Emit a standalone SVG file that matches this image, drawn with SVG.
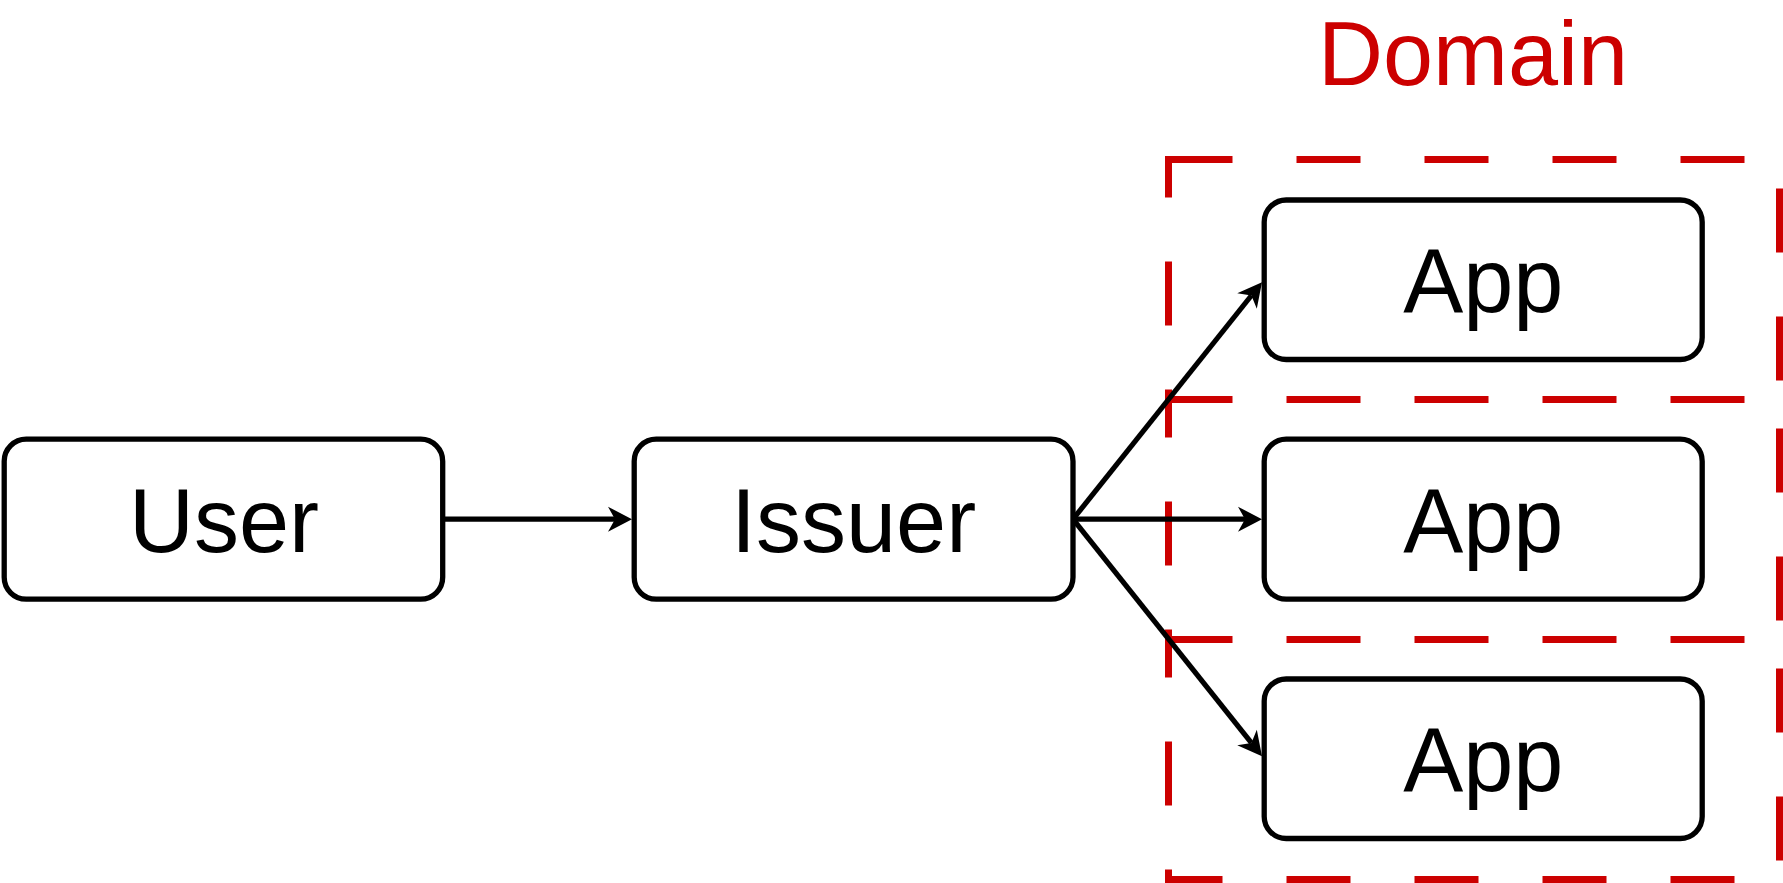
<svg xmlns="http://www.w3.org/2000/svg" width="1783" height="883" viewBox="0 0 1783 883">
  <style>
    .node rect { fill: #ffffff; stroke: #000000; stroke-width: 5.3; }
    .node text { font-family: "Liberation Sans", Arial, sans-serif; font-size: 90px; fill: #000000; text-anchor: middle; }
    .domain { fill: none; stroke: #CC0000; stroke-width: 7; stroke-dasharray: 64 64; }
    .title { font-family: "Liberation Sans", Arial, sans-serif; font-size: 90px; fill: #CC0000; text-anchor: middle; }
    .edge { fill: none; stroke: #000000; stroke-width: 5.2; marker-end: url(#arrow); }
  </style>
  <defs>
    <marker id="arrow" markerUnits="userSpaceOnUse" orient="auto" viewBox="-26 -14 28 28" markerWidth="28" markerHeight="28" refX="-17" refY="0" overflow="visible">
      <path d="M0,0 L-24,-12.5 L-17,0 L-24,12.5 Z" fill="#000000"/>
    </marker>
  </defs>
  <rect width="1783" height="883" fill="#ffffff"/>

  <g id="domain">
    <text class="title" x="1473" y="85">Domain</text>
    <rect class="domain" x="1168.5" y="159.5" width="611" height="240"/>
    <rect class="domain" x="1168.5" y="399.5" width="611" height="240"/>
    <rect class="domain" x="1168.5" y="639.5" width="611" height="240"/>
  </g>

  <g id="user" class="node">
    <rect x="4.2" y="439.2" width="438.5" height="160" rx="22" ry="22"/>
    <text x="224" y="551.5">User</text>
  </g>
  <g id="issuer" class="node">
    <rect x="634.2" y="439.2" width="438.8" height="160" rx="22" ry="22"/>
    <text x="853.6" y="551.5">Issuer</text>
  </g>
  <g id="app1" class="node">
    <rect x="1264.2" y="200" width="438" height="159.5" rx="22" ry="22"/>
    <text x="1483.2" y="311.5">App</text>
  </g>
  <g id="app2" class="node">
    <rect x="1264.2" y="439.2" width="438" height="160" rx="22" ry="22"/>
    <text x="1483.2" y="551.5">App</text>
  </g>
  <g id="app3" class="node">
    <rect x="1264.2" y="679" width="438" height="159.5" rx="22" ry="22"/>
    <text x="1483.2" y="790.5">App</text>
  </g>

  <g id="connectors">
    <path class="edge" d="M442.7,519.2 L615,519.2"/>
    <path class="edge" d="M1073,519.2 L1251.4,295.5"/>
    <path class="edge" d="M1073,519.2 L1245,519.2"/>
    <path class="edge" d="M1073,519.2 L1251.4,742.9"/>
  </g>
</svg>
